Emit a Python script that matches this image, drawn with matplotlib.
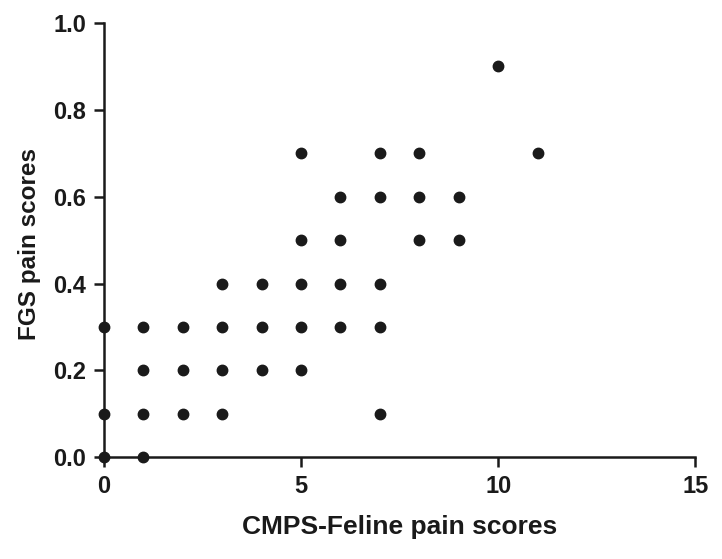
import numpy as np
import matplotlib.pyplot as plt
from matplotlib import font_manager

# CMPS-Feline score vs FGS score (one point per observed pair)
cmps = [0, 0, 0,
        1, 1, 1, 1,
        2, 2, 2,
        3, 3, 3, 3,
        4, 4, 4,
        5, 5, 5, 5, 5,
        6, 6, 6, 6,
        7, 7, 7, 7, 7,
        8, 8, 8,
        9, 9,
        10,
        11]
fgs = [0.0, 0.1, 0.3,
       0.0, 0.1, 0.2, 0.3,
       0.1, 0.2, 0.3,
       0.1, 0.2, 0.3, 0.4,
       0.2, 0.3, 0.4,
       0.2, 0.3, 0.4, 0.5, 0.7,
       0.3, 0.4, 0.5, 0.6,
       0.1, 0.3, 0.4, 0.6, 0.7,
       0.5, 0.6, 0.7,
       0.5, 0.6,
       0.9,
       0.7]

xticks = [0, 5, 10, 15]
yticks = [0.0, 0.2, 0.4, 0.6, 0.8, 1.0]

names = [f.name for f in font_manager.fontManager.ttflist]
fam = 'Liberation Sans Narrow' if 'Liberation Sans Narrow' in names else 'Liberation Sans'
plt.rcParams['font.family'] = [fam, 'DejaVu Sans']
plt.rcParams['font.weight'] = 'bold'

fig = plt.figure(figsize=(7.22, 5.59), dpi=100)
ax = fig.add_axes([0.144, 0.182, 0.819, 0.777])

ax.plot(cmps, fgs, 'o', color='#1a1a1a', markersize=7.5, clip_on=False, zorder=3)

ax.set_xlim(0, 15)
ax.set_ylim(0, 1.0)
ax.set_xticks(xticks)
ax.set_yticks(yticks)
ax.set_yticklabels(['%.1f' % v for v in yticks])

for s in ['top', 'right']:
    ax.spines[s].set_visible(False)
for s in ['left', 'bottom']:
    ax.spines[s].set_linewidth(1.8)
    ax.spines[s].set_color('#1a1a1a')

ax.tick_params(width=1.8, length=7, labelsize=17, color='#1a1a1a', labelcolor='#1a1a1a', pad=6)

ax.set_xlabel('CMPS-Feline pain scores', fontsize=19, fontweight='bold', color='#1a1a1a', labelpad=12)
ax.set_ylabel('FGS pain scores', fontsize=17.5, fontweight='bold', color='#1a1a1a', labelpad=10)
ax.yaxis.set_label_coords(-0.107, 0.49)

plt.savefig('out.png', dpi=100)
